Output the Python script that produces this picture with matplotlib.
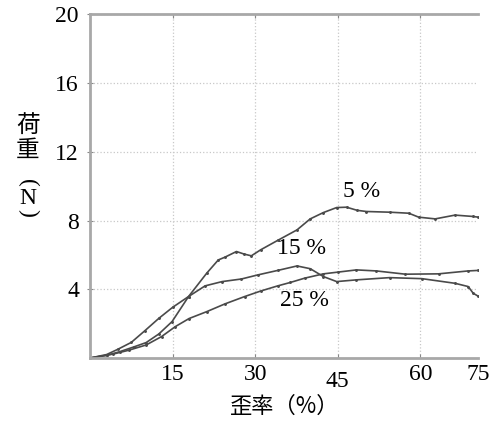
import matplotlib
matplotlib.use("Agg")
import matplotlib.pyplot as plt
from matplotlib.transforms import ScaledTranslation

# strain (%) vs load (N)
x_5 = [0, 3, 5.4, 8, 10.2, 12.5, 14.9, 17.9, 21.2, 23.3, 24.5, 26.6, 28, 29.3, 31,
       34.1, 37.6, 40, 42.4, 44.8, 46.6, 48.5, 50.2, 54.4, 57.9, 59.7, 62.7, 66.3, 69.6, 70.5]
y_5 = [0, 0.15, 0.37, 0.65, 0.9, 1.4, 2.12, 3.58, 4.94, 5.71, 5.87, 6.2, 6.05, 5.95, 6.3,
       6.85, 7.46, 8.1, 8.47, 8.76, 8.78, 8.6, 8.53, 8.49, 8.43, 8.2, 8.1, 8.32, 8.24, 8.2]

x_15 = [0, 3, 5, 7.5, 10, 12.5, 15, 17.9, 20.9, 24, 27.5, 30.5, 34.1, 37.6, 40, 42.4,
        44.8, 48.4, 54.4, 60.3, 66.3, 68.7, 69.6, 70.5]
y_15 = [0, 0.2, 0.5, 0.91, 1.6, 2.31, 2.95, 3.58, 4.2, 4.45, 4.6, 4.84, 5.1, 5.36, 5.2, 4.74,
        4.45, 4.55, 4.68, 4.62, 4.35, 4.16, 3.77, 3.6]

x_25 = [0, 4.2, 7, 10.2, 13, 15.5, 18, 21.2, 24.5, 28.1, 31, 34.1, 36.4, 39, 42.4, 45,
        48.4, 52, 57.3, 63.3, 68.7, 70.5]
y_25 = [0, 0.23, 0.45, 0.76, 1.25, 1.83, 2.3, 2.7, 3.15, 3.58, 3.9, 4.2, 4.4, 4.65, 4.9, 5.0,
        5.13, 5.07, 4.88, 4.9, 5.07, 5.1]

xticks = [15, 30, 45, 60, 70.5]
xtick_labels = ["15", "30", "45", "60", "75"]
yticks = [4, 8, 12, 16, 20]
ytick_labels = ["4", "8", "12", "16", "20"]

serif = ["Liberation Serif", "DejaVu Serif"]
cjk = ["Noto Sans CJK JP", "Liberation Serif"]

fig = plt.figure(figsize=(4.96, 4.21), dpi=100)
ax = fig.add_axes([0.1815, 0.1496, 0.7825, 0.8160])

line_col = "#4a4a4a"
for xs, ys in [(x_5, y_5), (x_15, y_15), (x_25, y_25)]:
    ax.plot(xs, ys, color=line_col, lw=1.2, marker=".", markersize=2.2)

ax.set_xlim(0, 70.5)
ax.set_ylim(0, 20)

ax.grid(True, color="#c8c8c8", linestyle=":", linewidth=0.9)
ax.set_xticks(xticks)
ax.set_xticklabels(xtick_labels, family=serif, fontsize=17)
ax.set_yticks(yticks)
ax.set_yticklabels(ytick_labels, family=serif, fontsize=17)
ax.xaxis.get_gridlines()[-1].set_visible(False)

ax.tick_params(axis="x", direction="in", length=3, color="#888888", pad=4, top=True)
ax.tick_params(axis="y", direction="inout", length=4, color="#888888", pad=6)
ax.xaxis.get_major_ticks()[-1].tick1line.set_visible(False)
ax.xaxis.get_major_ticks()[-1].tick2line.set_visible(False)

# the "45" label sits a little lower in the original
lab45 = ax.get_xticklabels()[2]
lab45.set_transform(lab45.get_transform() + ScaledTranslation(0, -5 / 72, fig.dpi_scale_trans))

for side in ["left", "bottom", "top"]:
    ax.spines[side].set_color("#a8a8a8")
    ax.spines[side].set_linewidth(2)
ax.spines["right"].set_visible(False)

ax.text(49.3, 9.7, "5 %", family=serif, fontsize=17, ha="center", va="center")
ax.text(38.5, 6.4, "15 %", family=serif, fontsize=17, ha="center", va="center")
ax.text(38.9, 3.35, "25 %", family=serif, fontsize=17, ha="center", va="center")

# vertical y label: 荷重（N）
ylab_x = 28 / 496
fig.text(ylab_x, 1 - 125 / 421, "荷", family=cjk, fontsize=17, ha="center", va="center")
fig.text(ylab_x, 1 - 150 / 421, "重", family=cjk, fontsize=17, ha="center", va="center")
fig.text(ylab_x, 1 - 183 / 421, "(", family=serif, fontsize=17, rotation=-90,
         ha="center", va="center")
fig.text(ylab_x, 1 - 198 / 421, "N", family=serif, fontsize=17, ha="center", va="center")
fig.text(ylab_x, 1 - 213 / 421, ")", family=serif, fontsize=17, rotation=-90,
         ha="center", va="center")

fig.text(285 / 496, 1 - 406 / 421, "歪率（%）", family=cjk, fontsize=16,
         ha="center", va="center")

fig.savefig("out.png", dpi=100)
